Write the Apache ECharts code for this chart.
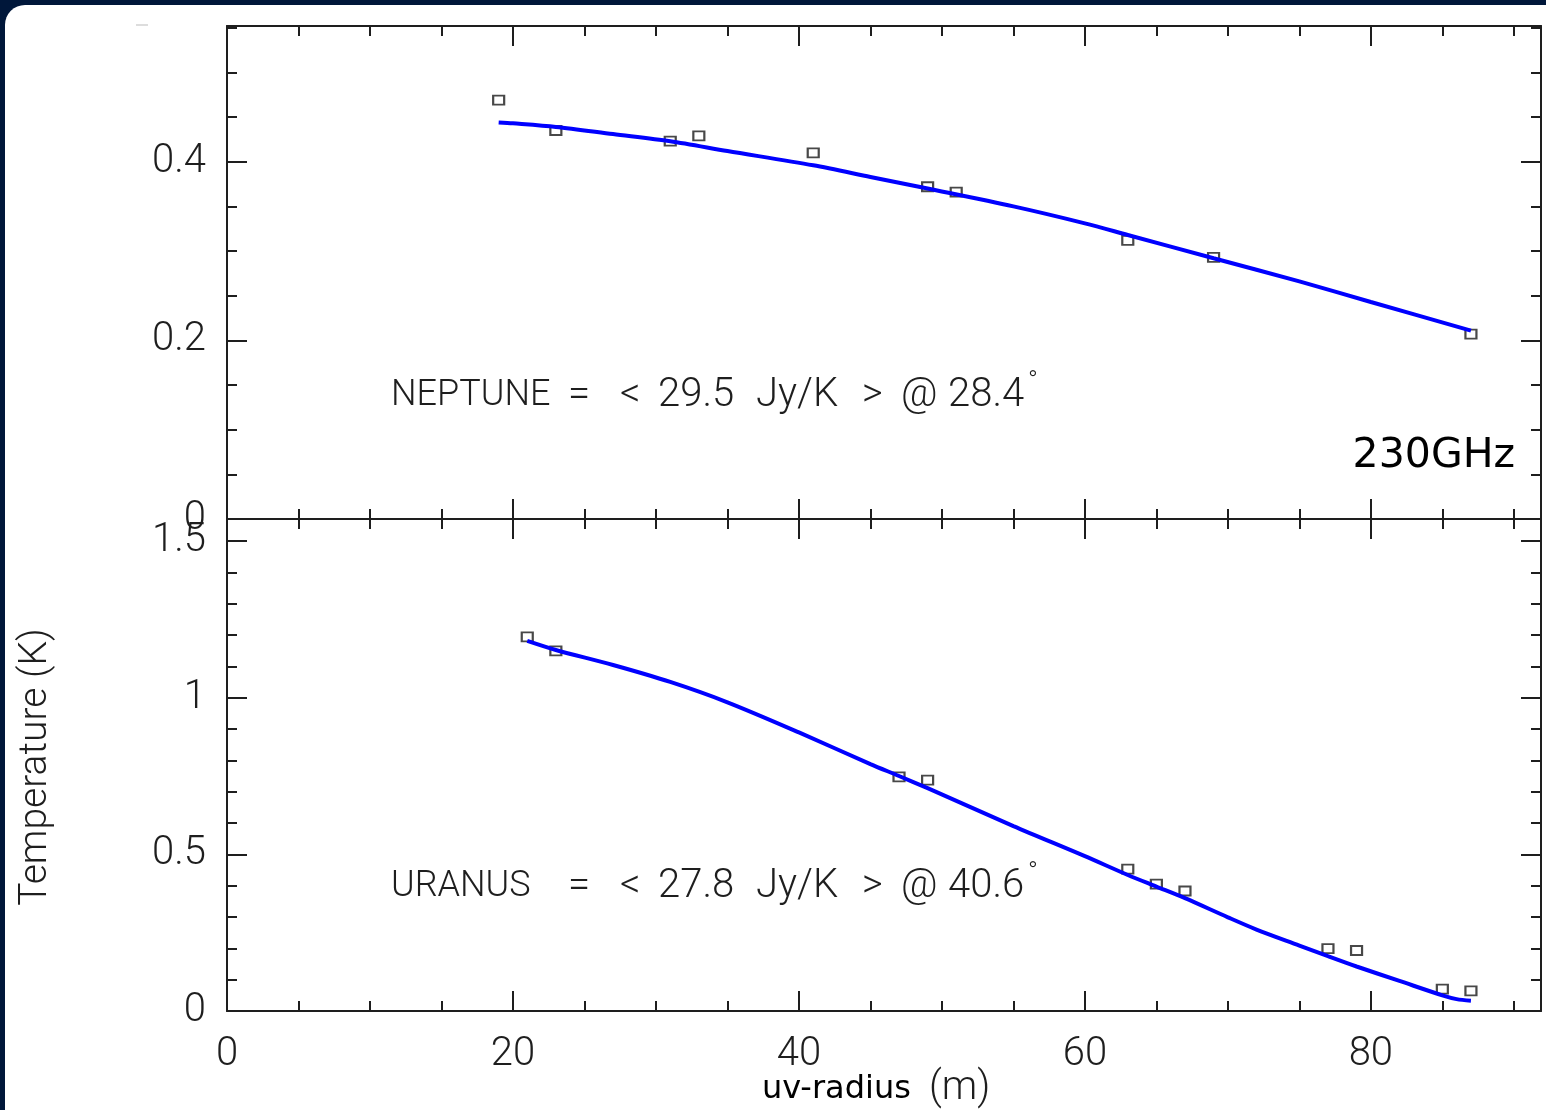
<!DOCTYPE html>
<html>
<head>
<meta charset="utf-8">
<script src="https://cdn.jsdelivr.net/npm/echarts@6/dist/echarts.min.js"></script>
<style>
html,body{margin:0;padding:0;background:#00173a;width:1546px;height:1110px;overflow:hidden;}
#card{position:absolute;left:5px;top:5px;width:1600px;height:1200px;background:#fff;border-top-left-radius:20px;}
#chart{position:absolute;left:0;top:0;width:1546px;height:1110px;}
</style>
</head>
<body>
<div id="card"></div>
<div id="chart"></div>
<script>
// ---- data ----
const neptuneX = [19, 23, 31, 33, 41, 49, 51, 63, 69, 87];
const neptuneT = [0.469, 0.435, 0.423, 0.429, 0.410, 0.372, 0.366, 0.312, 0.293, 0.207];
const neptuneFitX = [19, 20, 23, 27, 31, 35, 41, 45, 49, 55, 60, 63, 69, 75, 80, 87];
const neptuneFitT = [0.444, 0.443, 0.439, 0.431, 0.423, 0.412, 0.396, 0.383, 0.370, 0.350, 0.331, 0.318, 0.292, 0.266, 0.243, 0.211];

const uranusX = [21, 23, 47, 49, 63, 65, 67, 77, 79, 85, 87];
const uranusT = [1.194, 1.149, 0.747, 0.737, 0.453, 0.405, 0.383, 0.199, 0.193, 0.070, 0.064];
const uranusFitX = [21, 23, 27, 31, 35, 40, 45, 47, 49, 55, 60, 63, 65, 67, 70, 72, 75, 77, 79, 82, 85, 86, 87];
const uranusFitT = [1.181, 1.152, 1.104, 1.050, 0.985, 0.889, 0.788, 0.750, 0.711, 0.590, 0.494, 0.434, 0.397, 0.360, 0.299, 0.260, 0.209, 0.175, 0.142, 0.096, 0.050, 0.038, 0.033];

const xTickInterval = 20;
const neptuneTickInterval = 0.2;
const uranusTickInterval = 0.5;

const neptuneLabel = ['NEPTUNE', '=', '<', '29.5', 'Jy/K', '>', '@', '28.4', '°'];
const uranusLabel = ['URANUS', '=', '<', '27.8', 'Jy/K', '>', '@', '40.6', '°'];

// ---- style ----
const thinFont = 'Roboto';
const ink = '#1e1e1e';
const lblFont = 40;

function zip(a, b) { return a.map((v, i) => [v, b[i]]); }

const chart = echarts.init(document.getElementById('chart'), null, {renderer: 'canvas'});

function xAxisDef(grid, pos, showLabel) {
  return {
    type: 'value', gridIndex: grid, position: pos, min: 0, max: 91.9, interval: xTickInterval,
    axisLine: {show: true, onZero: false, lineStyle: {color: ink, width: 2}},
    axisTick: {show: true, inside: true, length: 20, lineStyle: {color: ink, width: 2}},
    minorTick: {show: true, splitNumber: 4, length: 10, lineStyle: {color: ink, width: 2}},
    splitLine: {show: false},
    axisLabel: {show: showLabel, showMaxLabel: false, margin: 24, fontFamily: thinFont, fontWeight: 300, fontSize: lblFont, color: ink}
  };
}
function yAxisDef(grid, pos, max, interval, split, showLabel) {
  return {
    type: 'value', gridIndex: grid, position: pos, min: 0, max: max, interval: interval,
    axisLine: {show: true, onZero: false, lineStyle: {color: ink, width: 2}},
    axisTick: {show: true, inside: true, length: 20, lineStyle: {color: ink, width: 2}},
    minorTick: {show: true, splitNumber: split, length: 10, lineStyle: {color: ink, width: 2}},
    splitLine: {show: false},
    axisLabel: {show: showLabel, showMaxLabel: false, margin: 21, fontFamily: thinFont, fontWeight: 300, fontSize: lblFont, color: ink}
  };
}

const annX = [391, 568, 620, 658, 756, 862, 901, 948, 1028];
function annotation(tokens, y) {
  return tokens.map((t, i) => ({
    type: 'text', x: annX[i], y: t === '°' ? y - 14 : y,
    style: {text: t, fontFamily: thinFont, fontWeight: 300, fontSize: t === '°' ? 26 : (i === 0 ? 36 : lblFont), fill: ink, textVerticalAlign: 'middle', textAlign: 'left'}
  }));
}

const option = {
  animation: false,
  backgroundColor: 'transparent',
  grid: [
    {left: 227, top: 26, width: 1314, height: 493},
    {left: 227, top: 519, width: 1314, height: 492}
  ],
  xAxis: [
    xAxisDef(0, 'bottom', false),
    xAxisDef(0, 'top', false),
    xAxisDef(1, 'bottom', true),
    xAxisDef(1, 'top', false)
  ],
  yAxis: [
    yAxisDef(0, 'left', 0.552, neptuneTickInterval, 4, true),
    yAxisDef(0, 'right', 0.552, neptuneTickInterval, 4, false),
    yAxisDef(1, 'left', 1.57, uranusTickInterval, 5, true),
    yAxisDef(1, 'right', 1.57, uranusTickInterval, 5, false)
  ],
  series: [
    {type: 'line', xAxisIndex: 0, yAxisIndex: 0, data: zip(neptuneFitX, neptuneFitT), smooth: 0.3, showSymbol: false, lineStyle: {color: '#0000ff', width: 4}},
    {type: 'scatter', xAxisIndex: 0, yAxisIndex: 0, data: zip(neptuneX, neptuneT), symbol: 'rect', symbolSize: [11, 9], itemStyle: {color: 'rgba(0,0,0,0)', borderColor: '#1a1a1a', borderWidth: 2}},
    {type: 'line', xAxisIndex: 2, yAxisIndex: 2, data: zip(uranusFitX, uranusFitT), smooth: 0.3, showSymbol: false, lineStyle: {color: '#0000ff', width: 4}},
    {type: 'scatter', xAxisIndex: 2, yAxisIndex: 2, data: zip(uranusX, uranusT), symbol: 'rect', symbolSize: [11, 9], itemStyle: {color: 'rgba(0,0,0,0)', borderColor: '#1a1a1a', borderWidth: 2}}
  ],
  graphic: [].concat(
    annotation(neptuneLabel, 396),
    annotation(uranusLabel, 887),
    [
      {type: 'text', x: 1515, y: 456, style: {text: '230GHz', fontFamily: 'DejaVu Sans', fontSize: 41, fill: '#000', textAlign: 'right', textVerticalAlign: 'middle'}},
      {type: 'text', x: 762, y: 1090, style: {text: 'uv-radius', fontFamily: 'DejaVu Sans', fontSize: 32, fill: '#000', textAlign: 'left', textVerticalAlign: 'middle'}},
      {type: 'text', x: 929, y: 1089, style: {text: '(m)', fontFamily: thinFont, fontWeight: 300, fontSize: 40, fill: ink, textAlign: 'left', textVerticalAlign: 'middle'}},
      {type: 'text', x: 36, y: 767, rotation: Math.PI / 2, style: {text: 'Temperature (K)', fontFamily: thinFont, fontWeight: 300, fontSize: 39, fill: ink, textAlign: 'center', textVerticalAlign: 'middle'}},
      {type: 'rect', shape: {x: 136, y: 24, width: 12, height: 2}, style: {fill: '#dddddd'}}
    ]
  )
};
chart.setOption(option);
</script>
</body>
</html>
